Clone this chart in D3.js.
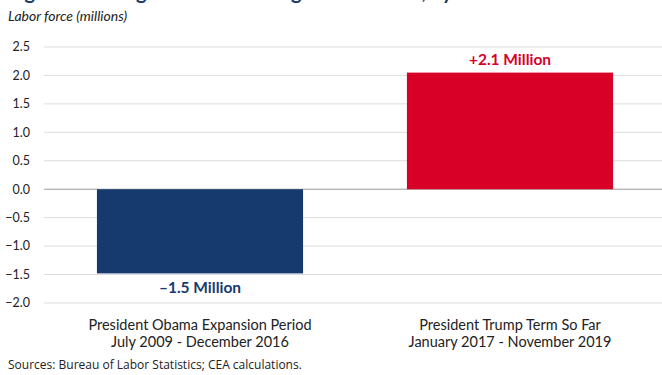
<!DOCTYPE html>
<html>
<head>
<meta charset="utf-8">
<script src="https://cdn.jsdelivr.net/npm/d3@7"></script>
<style>
  body { margin: 0; background: #fff; }
  svg { display: block; font-family: Lato, "Open Sans", sans-serif; }
</style>
</head>
<body>
<div id="chart"></div>
<script>
// Labor force change by period
const categories = ['obama', 'trump'];
const catLines = [
    ['President Obama Expansion Period', 'July 2009 - December 2016'],
    ['President Trump Term So Far', 'January 2017 - November 2019']
];
const values = [-1.48, 2.05];
const valueLabels = ['\u20131.5 Million', '+2.1 Million'];
const barColors = ['#173a6e', '#d80027'];
const yTicks = [2.5, 2.0, 1.5, 1.0, 0.5, 0.0, -0.5, -1.0, -1.5, -2.0];

const width = 662, height = 375;

const svg = d3.select('#chart')
    .append('svg')
    .attr('width', width)
    .attr('height', height);

// title, cut off at the top edge of the picture (only descenders show)
svg.append('text')
    .attr('x', 8)
    .attr('y', -1)
    .attr('font-size', 20)
    .attr('font-weight', 'bold')
    .attr('fill', '#173a6e')
    .text('Figure 3. Change in the Prime-Age Labor Force, by Period');

svg.append('text')
    .attr('x', 8)
    .attr('y', 21)
    .attr('font-size', 14)
    .attr('font-style', 'italic')
    .attr('fill', '#222')
    .text('Labor force (millions)');

let y = d3.scaleLinear([-2.0, 2.5], [303, 47]);
let x = d3.scaleBand(categories, [45, 665]).paddingInner(0.335).paddingOuter(0.1675);

// gridlines
svg.append('g')
    .selectAll('line')
    .data(yTicks)
    .join('line')
    .attr('x1', 44)
    .attr('x2', width)
    .attr('y1', d => y(d))
    .attr('y2', d => y(d))
    .attr('stroke', d => d === 0 ? '#9a9a9a' : '#dcdcdc')
    .attr('stroke-width', 1);

svg.append('g')
    .selectAll('text')
    .data(yTicks)
    .join('text')
    .attr('x', 30)
    .attr('y', d => y(d))
    .attr('dy', '0.35em')
    .attr('text-anchor', 'end')
    .attr('font-size', 12.5)
    .attr('fill', '#222')
    .text(d => d3.format('.1f')(d));

// bars
svg.append('g')
    .selectAll('rect')
    .data(values)
    .join('rect')
    .attr('x', (d, i) => x(categories[i]))
    .attr('width', x.bandwidth())
    .attr('y', d => y(Math.max(0, d)))
    .attr('height', d => Math.abs(y(d) - y(0)))
    .attr('fill', (d, i) => barColors[i]);

// value labels
svg.append('g')
    .selectAll('text')
    .data(values)
    .join('text')
    .attr('x', (d, i) => x(categories[i]) + x.bandwidth() / 2)
    .attr('y', d => d >= 0 ? y(d) - 8 : y(d) + 20)
    .attr('text-anchor', 'middle')
    .attr('font-size', 15.5)
    .attr('font-weight', 'bold')
    .attr('fill', (d, i) => barColors[i])
    .text((d, i) => valueLabels[i]);

// category labels
const cats = svg.append('g')
    .selectAll('text')
    .data(catLines)
    .join('text')
    .attr('x', (d, i) => x(categories[i]) + x.bandwidth() / 2)
    .attr('y', 330)
    .attr('text-anchor', 'middle')
    .attr('font-size', 14.5)
    .attr('fill', '#222');

cats.selectAll('tspan')
    .data(d => d)
    .join('tspan')
    .attr('x', function () { return this.parentNode.getAttribute('x'); })
    .attr('dy', (d, i) => i === 0 ? 0 : 17)
    .text(d => d);

svg.append('text')
    .attr('x', 8)
    .attr('y', 369)
    .attr('font-family', '"Open Sans", sans-serif')
    .attr('font-size', 12)
    .attr('fill', '#222')
    .text('Sources: Bureau of Labor Statistics; CEA calculations.');
</script>
</body>
</html>
